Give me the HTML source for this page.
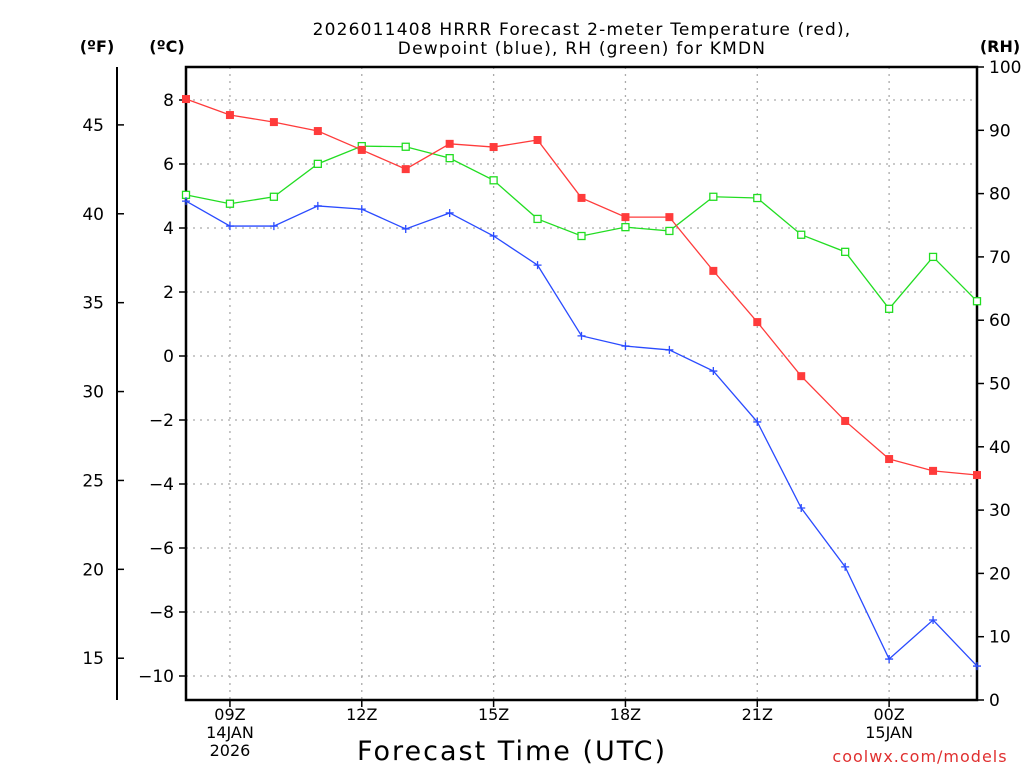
<!DOCTYPE html>
<html><head><meta charset="utf-8">
<style>
html,body{margin:0;padding:0;background:#fff;width:1024px;height:768px;overflow:hidden}
svg{font-family:"DejaVu Sans","Liberation Sans",sans-serif}
</style></head>
<body>
<svg id="chart" width="1024" height="768" viewBox="0 0 1024 768" xmlns="http://www.w3.org/2000/svg">
<text x="582" y="35" text-anchor="middle" font-size="17" letter-spacing="1.2">2026011408 HRRR Forecast 2-meter Temperature (red),</text>
<text x="582" y="54" text-anchor="middle" font-size="17" letter-spacing="1.2">Dewpoint (blue), RH (green) for KMDN</text>
<text x="97" y="52" text-anchor="middle" font-size="16" font-weight="bold">(ºF)</text>
<text x="167" y="52" text-anchor="middle" font-size="16" font-weight="bold">(ºC)</text>
<text x="1000" y="52" text-anchor="middle" font-size="16" font-weight="bold">(RH)</text>
<text x="512" y="760" text-anchor="middle" font-size="27" letter-spacing="2">Forecast Time (UTC)</text>
<text x="920" y="762" text-anchor="middle" font-size="16" fill="#e03030" letter-spacing="1">coolwx.com/models</text>
<g id="grid"></g><g id="axes"></g><g id="series"></g>
</svg>
<script>
const hours = ["08","09","10","11","12","13","14","15","16","17","18","19","20","21","22","23","00","01","02"];
const tempC = [8.03,7.53,7.31,7.03,6.44,5.84,6.63,6.53,6.75,4.94,4.34,4.34,2.66,1.06,-0.63,-2.03,-3.22,-3.59,-3.72];
const dewC = [4.84,4.06,4.06,4.69,4.59,3.97,4.47,3.75,2.84,0.63,0.31,0.19,-0.47,-2.06,-4.75,-6.59,-9.47,-8.25,-9.69];
const rh = [79.8,78.4,79.5,84.7,87.5,87.4,85.6,82.1,76.0,73.3,74.7,74.1,79.5,79.3,73.5,70.8,61.8,70.0,63.0];
const cTicks = [8,6,4,2,0,-2,-4,-6,-8,-10];
const fTicks = [45,40,35,30,25,20,15];
const rhTicks = [0,10,20,30,40,50,60,70,80,90,100];
const xLabels = [{i:1,l:["09Z","14JAN","2026"]},{i:4,l:["12Z"]},{i:7,l:["15Z"]},{i:10,l:["18Z"]},{i:13,l:["21Z"]},{i:16,l:["00Z","15JAN"]}];

const L=186,R=977,T=67,B=700;
const xs=i=>L+(R-L)*i/(hours.length-1);
const yC=c=>356-32*c;
const yF=f=>yC((f-32)*5/9);
const yRH=v=>B-(B-T)*v/100;
const NS="http://www.w3.org/2000/svg";
function mk(tag,attrs,parent,txt){const e=document.createElementNS(NS,tag);for(const k in attrs)e.setAttribute(k,attrs[k]);if(txt!==undefined)e.textContent=txt;parent.appendChild(e);return e;}
const grid=document.getElementById('grid'),axes=document.getElementById('axes'),ser=document.getElementById('series');

cTicks.forEach(c=>{
  const g=mk('line',{x1:L,x2:R,y1:yC(c),y2:yC(c),stroke:'#aaa','stroke-dasharray':'2,5','stroke-width':1.3},grid);
  
  
  const t=mk('line',{x1:L-7,x2:L,y1:yC(c),y2:yC(c),stroke:'#000','stroke-width':1.5},axes);
  
  
  const lb=mk('text',{x:L-12,y:yC(c)+6,'text-anchor':'end','font-size':17},axes,c<0?'\u2212'+(-c):String(c));
  
  
});
xLabels.forEach(o=>{
  const x=xs(o.i);
  const g=mk('line',{x1:x,x2:x,y1:T,y2:B,stroke:'#aaa','stroke-dasharray':'2,5','stroke-width':1.3},grid);
  
  
  const t=mk('line',{x1:x,x2:x,y1:B,y2:B+7,stroke:'#000','stroke-width':1.5},axes);
  
  
  o.l.forEach((s,k)=>{
    const lb=mk('text',{x:x,y:720+k*18,'text-anchor':'middle','font-size':16},axes,s);
    
    
  });
});
const fl=mk('line',{x1:117,x2:117,y1:T,y2:B,stroke:'#000','stroke-width':2},axes);


fTicks.forEach(f=>{
  const t=mk('line',{x1:117,x2:124,y1:yF(f),y2:yF(f),stroke:'#000','stroke-width':1.5},axes);
  
  
  const lb=mk('text',{x:104,y:yF(f)+6,'text-anchor':'end','font-size':17},axes,String(f));
  
  
});
rhTicks.forEach(v=>{
  const t=mk('line',{x1:R,x2:R+7,y1:yRH(v),y2:yRH(v),stroke:'#000','stroke-width':1.5},axes);
  
  
  const lb=mk('text',{x:R+12,y:yRH(v)+6,'text-anchor':'start','font-size':17},axes,String(v));
  
  
});
const fr=mk('rect',{x:L,y:T,width:R-L,height:B-T,fill:'none',stroke:'#000','stroke-width':2.5},axes);



function line(vals,yf,color,name){
  const p=mk('polyline',{points:vals.map((v,i)=>xs(i)+','+yf(v)).join(' '),fill:'none',stroke:color,'stroke-width':1.3},ser);
  
  
}
line(rh,yRH,'#22dd22','rh');
line(tempC,yC,'#ff3b3b','temperature');
line(dewC,yC,'#2a4bff','dewpoint');
rh.forEach((v,i)=>{
  const m=mk('rect',{x:xs(i)-3.5,y:yRH(v)-3.5,width:7,height:7,fill:'#fff',stroke:'#22dd22','stroke-width':1.3},ser);
  
  
});
tempC.forEach((v,i)=>{
  const m=mk('rect',{x:xs(i)-4,y:yC(v)-4,width:8,height:8,fill:'#ff3b3b'},ser);
  
  
});
dewC.forEach((v,i)=>{
  const m=mk('path',{d:`M${xs(i)-4},${yC(v)}h8M${xs(i)},${yC(v)-4}v8`,stroke:'#2a4bff','stroke-width':1.3},ser);
  
  
});
</script>
</body></html>
